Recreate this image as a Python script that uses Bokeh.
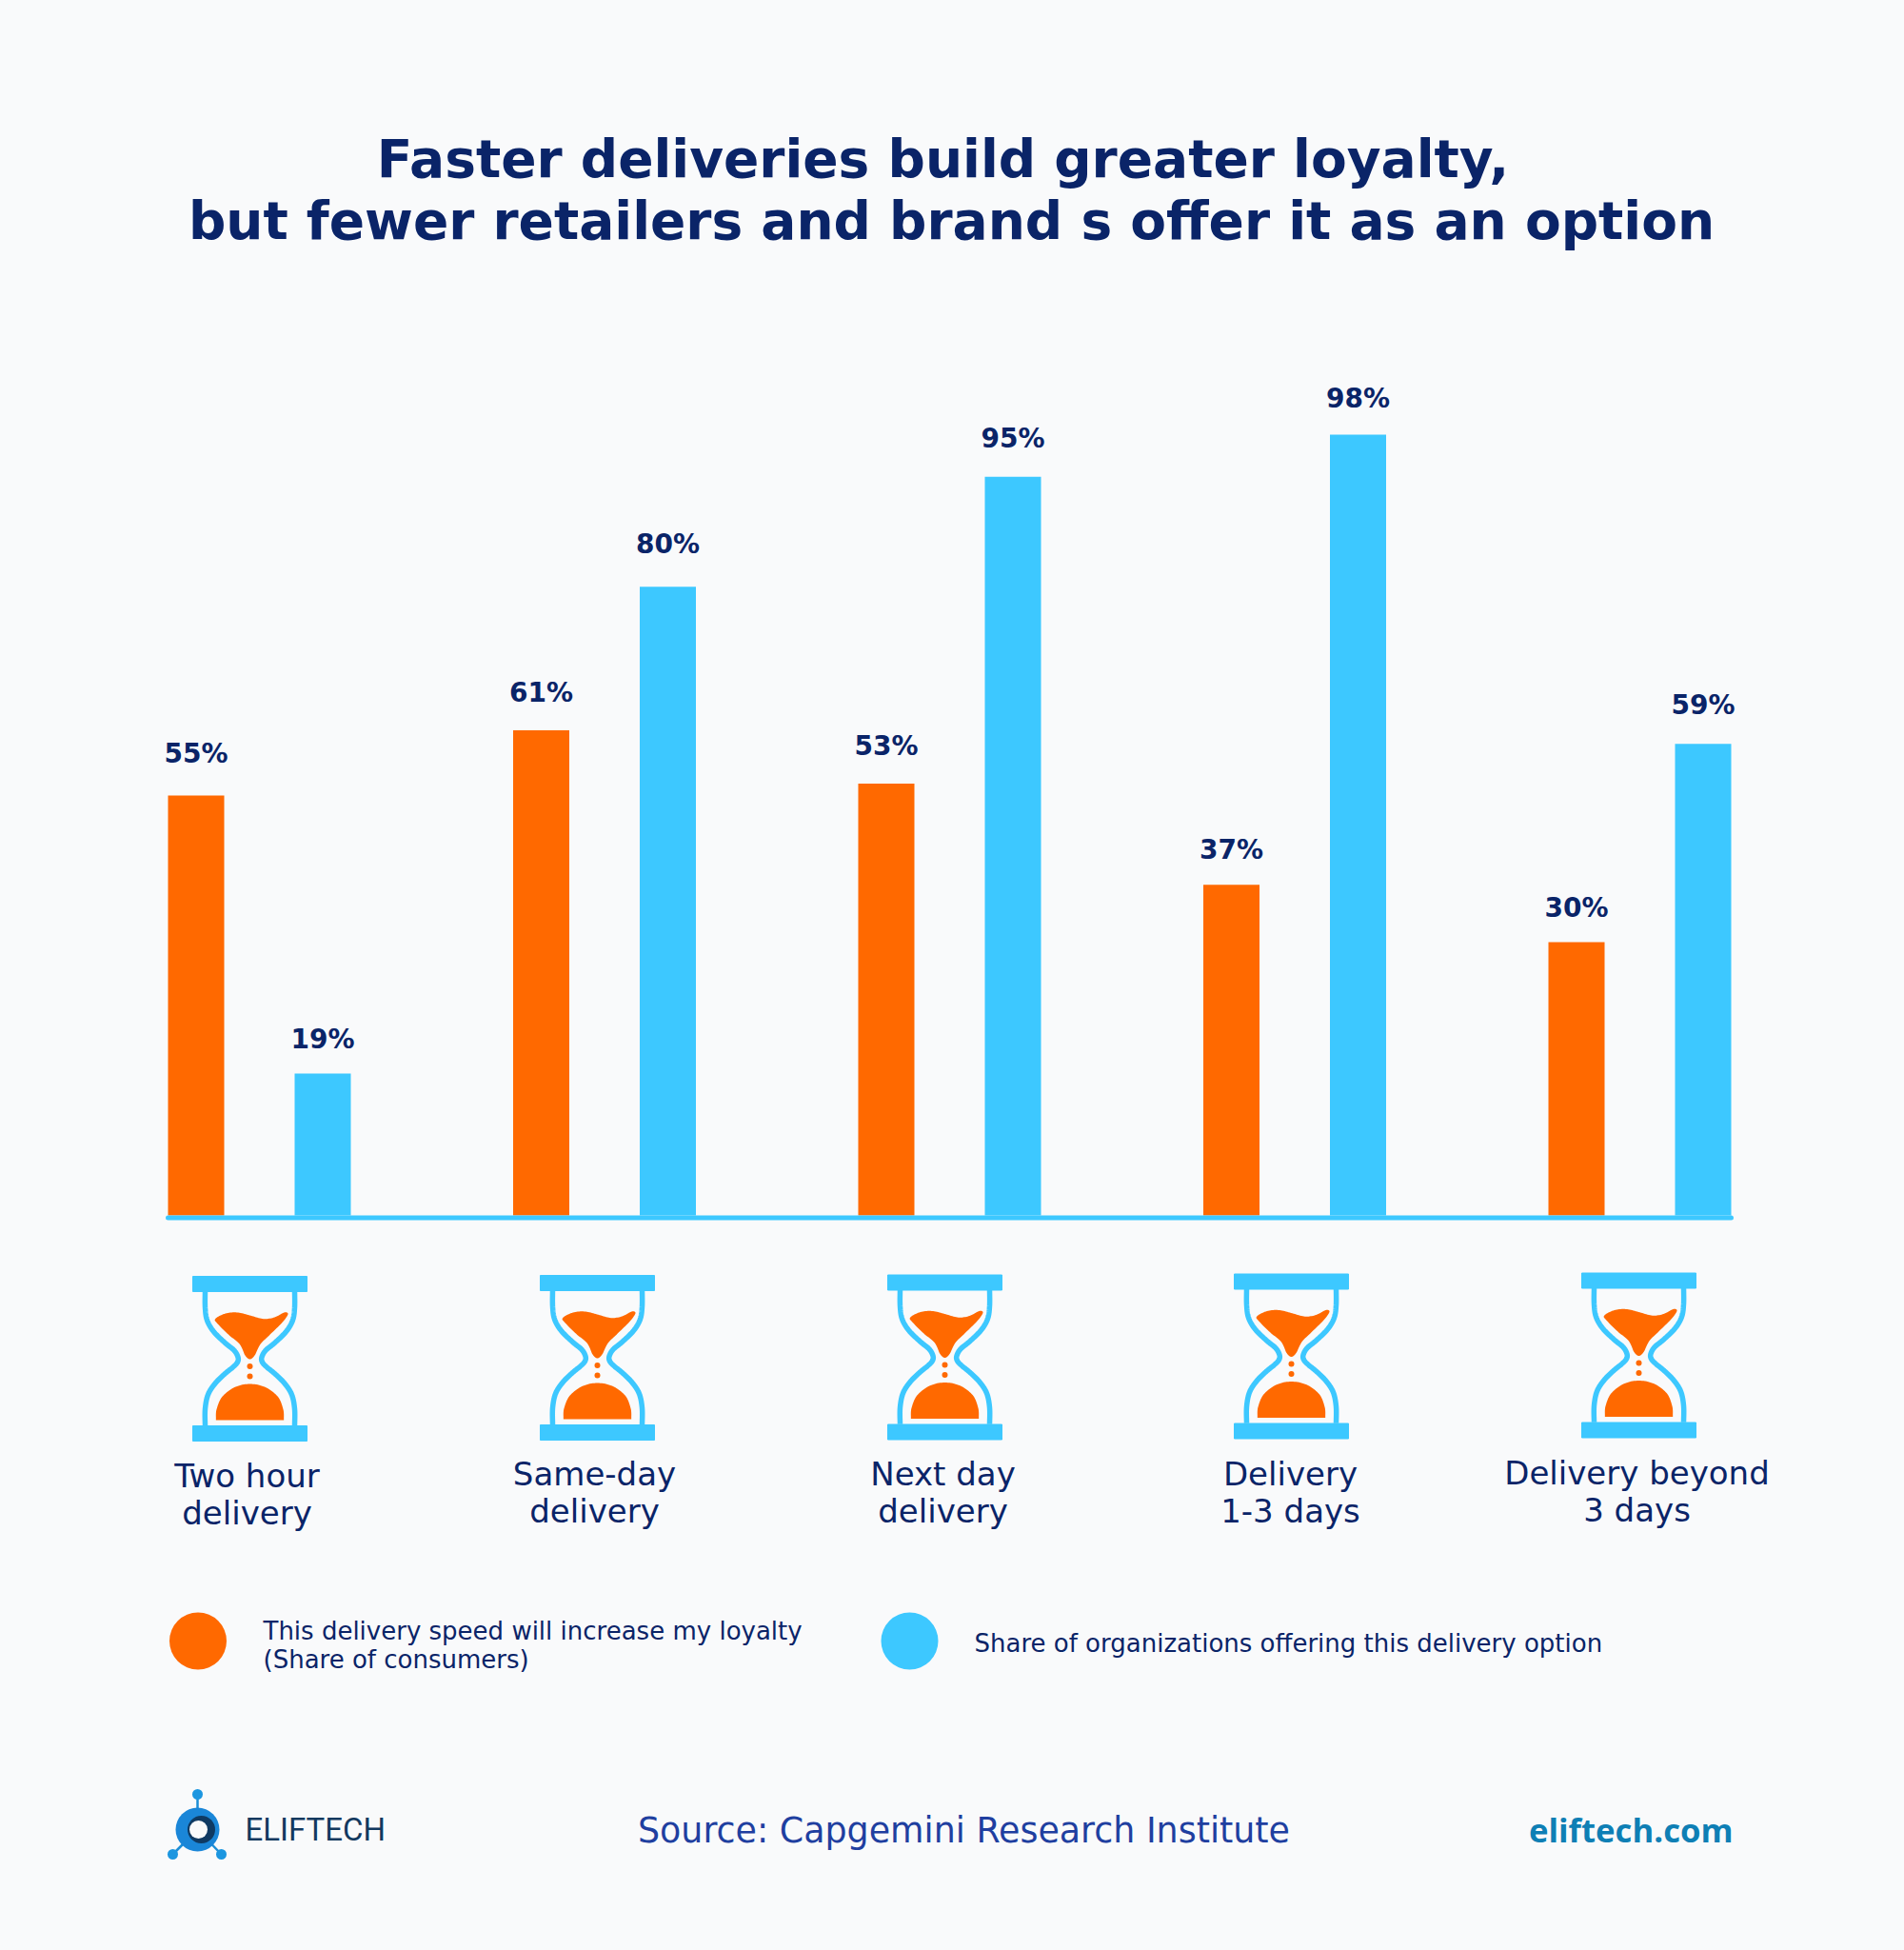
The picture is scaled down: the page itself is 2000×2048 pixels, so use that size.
import numpy as np
from bokeh.plotting import figure
from bokeh.models import FactorRange, Range1d, ColumnDataSource, LinearScale
from bokeh.core.properties import value
from bokeh.embed import file_html
from bokeh.resources import INLINE

# ---- data
categories = ["Two hour delivery", "Same-day delivery", "Next day delivery", "Delivery 1-3 days", "Delivery beyond 3 days"]
category_lines = [("Two hour", "delivery"), ("Same-day", "delivery"), ("Next day", "delivery"), ("Delivery", "1-3 days"), ("Delivery beyond", "3 days")]
series_names = ["loyalty", "offering"]
# printed values
loyalty_labels = ["55%", "61%", "53%", "37%", "30%"]
offering_labels = ["19%", "80%", "95%", "98%", "59%"]
# bar heights as actually drawn in the infographic (not strictly to scale with the printed values)
loyalty_heights = [52.7, 60.9, 54.2, 41.5, 34.3]
offering_heights = [17.8, 78.9, 92.7, 98.0, 59.2]

title_lines = ["Faster deliveries build greater loyalty,", "but fewer retailers and brand s offer it as an option"]
legend_texts = [["This delivery speed will increase my loyalty", "(Share of consumers)"], ["Share of organizations offering this delivery option"]]

# ---- styles
BG = "#f9fafb"; ORANGE = "#ff6900"; BLUE = "#3dc8ff"; NAVY = "#0a2468"
W, H = 1984, 2032
BORDER_R = 6
FRAME_W = W - BORDER_R
UNIT = 133.0          # px per factor
GROUP_PAD = 229.5 / UNIT - 1
BASE_PX = 1276 - 8    # baseline from top of canvas
PX_PER_PCT = 820 / 98.0

factors = [(c, s) for c in categories for s in series_names]
L = len(factors) + (len(categories) - 1) * GROUP_PAD
RANGE_PAD = FRAME_W / UNIT - L
xr = FactorRange(factors=factors, factor_padding=0, group_padding=GROUP_PAD,
                 range_padding=RANGE_PAD / 2, range_padding_units="absolute")
yr = Range1d(-(H - BASE_PX) / PX_PER_PCT, BASE_PX / PX_PER_PCT)

p = figure(width=W, height=H, x_range=xr, y_range=yr, output_backend="svg", toolbar_location=None,
           background_fill_color=BG, border_fill_color=BG, outline_line_color=None,
           min_border_left=0, min_border_right=BORDER_R, min_border_top=0, min_border_bottom=0)
p.xaxis.visible = False; p.yaxis.visible = False; p.grid.visible = False
# decoration is placed in page pixels: y through a pixel range, x as synthetic coordinates of the factor range
p.extra_y_ranges["px"] = Range1d(8 + H, 8)
p.extra_y_scales["px"] = LinearScale()
PX = dict(y_range_name="px")
def X(v):
    return [float(-RANGE_PAD / 2 + (a - 8) / UNIT) for a in np.atleast_1d(v)]
def Y(v):
    return [float(a) for a in np.atleast_1d(v)]

# ---- bars
for name, heights, labels, color, gaps in [
    ("loyalty", loyalty_heights, loyalty_labels, ORANGE, [44, 39, 39, 37, 36]),
    ("offering", offering_heights, offering_labels, BLUE, [36, 45, 40, 38, 41]),
]:
    src = ColumnDataSource(dict(x=[(c, name) for c in categories], top=heights, label=labels, gap=[-g for g in gaps]))
    p.vbar(x="x", top="top", bottom=0, width=59 / UNIT, source=src, fill_color=color, line_color=None)
    p.text(x="x", y="top", text="label", y_offset="gap", source=src, text_align="center", text_baseline="middle",
           text_font=value("DejaVu Sans"), text_font_style="bold", text_font_size="28px", text_color=NAVY)

# baseline
p.segment(x0=X(176), y0=[1278.5], x1=X(1818), y1=[1278.5], line_color=BLUE, line_width=5, line_cap="round", **PX)

def smooth(pts, closed=False, n=10):
    pts = np.array(pts, float)
    if closed:
        P = np.vstack([pts[-1], pts, pts[0], pts[1]])
    else:
        P = np.vstack([pts[0], pts, pts[-1]])
    out = []
    for i in range(1, len(P) - 2):
        for t in np.linspace(0, 1, n, endpoint=False):
            a, b, c, d = P[i - 1], P[i], P[i + 1], P[i + 2]
            out.append(0.5 * (2 * b + (c - a) * t + (2 * a - 5 * b + 4 * c - d) * t**2 + (3 * b - a - 3 * c + d) * t**3))
    out.append(P[-2])
    return np.array(out)

# hourglass, shape in zoom units (1/3 px) around its centre
left_glass = [(-141, -212), (-141, -160), (-135, -120), (-115, -85), (-80, -50), (-50, -25), (-38, -5), (-38, 10),
              (-50, 25), (-80, 50), (-110, 80), (-132, 115), (-141, 160), (-141, 212)]
sand_top = [(-109, -124), (-77, -141), (-37, -144), (3, -134), (43, -124), (78, -129), (108, -144), (120, -139),
            (103, -114), (63, -74), (33, -44), (15, -9), (0, 3), (-15, -9), (-32, -44), (-67, -74), (-102, -109)]
mound = [(-107, 191), (-105, 161), (-87, 121), (-47, 91), (0, 81), (48, 91), (88, 121), (105, 161), (107, 191)]

def hourglass(cx, cy):
    g = smooth(left_glass) / 3
    p.line(X(cx + g[:, 0]), Y(cy + g[:, 1]), line_color=BLUE, line_width=5.5, **PX)
    p.line(X(cx - g[:, 0]), Y(cy + g[:, 1]), line_color=BLUE, line_width=5.5, **PX)
    for top in (-86, 71):
        p.quad(left=X(cx - 60), right=X(cx + 60), top=[cy + top], bottom=[cy + top + 16], fill_color=BLUE, line_color=BLUE,
               line_width=1, line_join="round", **PX)
    s = smooth(sand_top, closed=True) / 3
    p.patch(X(cx + s[:, 0]), Y(cy + s[:, 1]), fill_color=ORANGE, line_color=None, **PX)
    m = smooth(mound) / 3
    m = np.vstack([m, [m[-1][0], 195 / 3], [m[0][0], 195 / 3]])
    p.patch(X(cx + m[:, 0]), Y(cy + m[:, 1]), fill_color=ORANGE, line_color=None, **PX)
    p.scatter(x=X([cx, cx]), y=[cy + 8.5, cy + 19], size=6, marker="circle", fill_color=ORANGE, line_color=None, **PX)

icon_x = [262, 627, 992, 1356, 1721]
icon_y = [1426, 1425, 1424.5, 1423.5, 1422.5]
for cx, cy in zip(icon_x, icon_y):
    hourglass(cx, cy)

# category labels
label_x = [259, 624, 990, 1355, 1719]
label_y1 = [1549, 1547, 1547, 1547, 1546]
for lx, ly, lines in zip(label_x, label_y1, category_lines):
    p.text(x=X([lx, lx]), y=[ly, ly + 39], text=list(lines), text_align="center", text_baseline="middle",
           text_font=value("DejaVu Sans"), text_font_size="34px", text_color=NAVY, **PX)

# title
p.text(x=X([990, 999]), y=[166, 231], text=title_lines, text_align="center", text_baseline="middle",
       text_font=value("DejaVu Sans"), text_font_style="bold", text_font_size="55px", text_color=NAVY, **PX)

# legend
p.scatter(x=X([207.5, 955]), y=[1723, 1723], size=60, marker="circle", fill_color=[ORANGE, BLUE], line_color=None, **PX)
p.text(x=X([276, 276, 1023]), y=[1712, 1742, 1725], text=legend_texts[0] + legend_texts[1], text_align="left",
       text_baseline="middle", text_font=value("DejaVu Sans"), text_font_size="26px", text_color=NAVY, **PX)

# footer
p.text(x=X(1012), y=[1922], text=["Source: Capgemini Research Institute"], text_align="center", text_baseline="middle",
       text_font=value("DejaVu Sans"), text_font_size="36.4px", text_color="#1f3fa0", **PX)
p.text(x=X(1820), y=[1921], text=["eliftech.com"], text_align="right", text_baseline="middle",
       text_font=value("Open Sans"), text_font_style="bold", text_font_size="34.7px", text_color="#0e7fb5", **PX)

# logo
lx, ly = 207, 1921
p.segment(x0=X([lx, lx, lx]), y0=[ly, ly, ly], x1=X([lx, 181, 232]), y1=[1884, 1947, 1947], line_color="#1c8ed6", line_width=2.5, **PX)
p.scatter(x=X([lx, 181, 232]), y=[1884, 1947, 1947], size=11, marker="circle", fill_color="#1c96e0", line_color=None, **PX)
p.scatter(x=X(lx), y=[ly], size=46, marker="circle", fill_color="#1a86d8", line_color=None, **PX)
p.scatter(x=X(lx + 4), y=[ly], size=29, marker="circle", fill_color="#0f3a63", line_color=None, **PX)
p.scatter(x=X(lx + 1), y=[ly], size=19, marker="circle", fill_color=BG, line_color=None, **PX)
p.text(x=X(257), y=[1921], text=["ELIFTECH"], text_align="left", text_baseline="middle",
       text_font=value("Roboto"), text_font_size="33px", text_color="#12395f", **PX)

html = file_html(p, INLINE)
html = html.replace("<head>", "<head><style>html,body{background:%s;}body{margin:8px !important;}</style>" % BG, 1)
open("out.html", "w").write(html)
